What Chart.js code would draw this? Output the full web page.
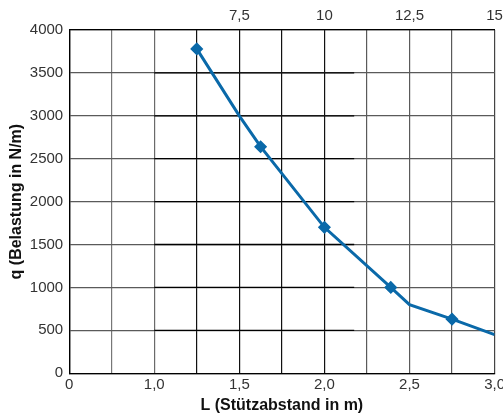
<!DOCTYPE html>
<html>
<head>
<meta charset="utf-8">
<script src="https://cdn.jsdelivr.net/npm/chart.js@4/dist/chart.umd.min.js"></script>
<style>
  html, body { margin: 0; padding: 0; background: #fff; overflow: hidden; }
  #wrap { width: 508px; height: 414px; }
</style>
</head>
<body>
<div id="wrap"><canvas id="c" width="508" height="414"></canvas></div>
<script>
// ---- data ----
const spanL   = [1.25, 1.5, 1.625, 2.0, 2.39, 2.5, 2.75, 3.0];      // L (Stützabstand in m)
const loadQ   = [3780, 3000, 2640, 1700, 1000, 800, 630, 450];      // q (Belastung in N/m)
const marked  = [1, 0, 1, 1, 1, 0, 1, 0];                           // vertex drawn with a marker
const bottomTickLabels = ['0', '', '1,0', '', '1,5', '', '2,0', '', '2,5', '', '3,0'];
const topTickLabels    = ['', '', '', '', '7,5', '', '10', '', '12,5', '', '15'];
const yTitle = 'q (Belastung in N/m)';
const xTitle = 'L (Stützabstand in m)';

// the printed grid is not linear in L: 0..1,0 occupies two cells, then 0,25 m per cell
function gridIndex(L) { return L <= 1 ? L * 2 : 2 + (L - 1) / 0.25; }

const points = spanL.map((L, i) => ({ x: gridIndex(L), y: loadQ[i] }));
const blue = '#0a69a9';
const vGridColors = ['#000', '#777', '#6a6a6a', '#111', '#111', '#111', '#111', '#5a5a5a', '#5a5a5a', '#5a5a5a', '#444'];

const darkSegments = {
  id: 'darkSegments',
  beforeDatasetsDraw(chart) {
    const { ctx, scales } = chart;
    const x0 = scales.x.getPixelForValue(2), x1 = scales.x.getPixelForValue(6.7);
    ctx.save();
    ctx.strokeStyle = '#000';
    ctx.lineWidth = 1.3;
    for (let v = 500; v <= 3500; v += 500) {
      const y = scales.y.getPixelForValue(v);
      ctx.beginPath(); ctx.moveTo(x0, y); ctx.lineTo(x1, y); ctx.stroke();
    }
    ctx.restore();
  }
};

const font = { family: '"Liberation Sans", Arial, sans-serif', size: 15 };
const xTitleFont = { family: '"Liberation Sans", Arial, sans-serif', size: 16, weight: 'bold', lineHeight: 1.05 };
const yTitleFont = { family: '"Liberation Sans", Arial, sans-serif', size: 16, weight: 'bold', lineHeight: 0.8 };

new Chart(document.getElementById('c'), {
  type: 'line',
  data: {
    datasets: [{
      data: points,
      borderColor: blue,
      backgroundColor: blue,
      borderWidth: 3,
      tension: 0,
      pointStyle: 'rectRot',
      pointRadius: marked.map(m => m ? 5.5 : 0),
      pointBorderWidth: 1.5,
      pointBackgroundColor: blue,
      pointBorderColor: blue
    }]
  },
  options: {
    responsive: false,
    animation: false,
    layout: { padding: { top: 2, left: 10, right: 0, bottom: 0 } },
    plugins: { legend: { display: false }, tooltip: { enabled: false } },
    scales: {
      x: {
        type: 'linear', position: 'bottom', min: 0, max: 10,
        ticks: { stepSize: 1, autoSkip: false, maxRotation: 0, color: '#333', font,
                 padding: 3, callback: (v) => bottomTickLabels[Math.round(v)] },
        grid: { color: (c) => vGridColors[Math.round(c.tick ? c.tick.value : 0)], lineWidth: 1.2, drawTicks: false },
        border: { color: '#000', width: 1.3 },
        title: { display: true, text: xTitle, color: '#111', font: xTitleFont, padding: { top: 0, bottom: 0 } }
      },
      x2: {
        type: 'linear', position: 'top', min: 0, max: 10,
        ticks: { stepSize: 1, autoSkip: false, maxRotation: 0, color: '#333', font,
                 padding: 5, callback: (v) => topTickLabels[Math.round(v)] },
        grid: { drawOnChartArea: false, drawTicks: false },
        border: { color: '#000', width: 1.3 }
      },
      y: {
        min: 0, max: 4000,
        ticks: { stepSize: 500, color: '#333', font, padding: 6, callback: (v) => String(v) },
        grid: { color: '#5a5a5a', lineWidth: 1.2, drawTicks: false },
        border: { color: '#000', width: 1.3 },
        title: { display: true, text: yTitle, color: '#111', font: yTitleFont, padding: { top: 0, bottom: 1 } }
      }
    }
  },
  plugins: [darkSegments]
});
</script>
</body>
</html>
